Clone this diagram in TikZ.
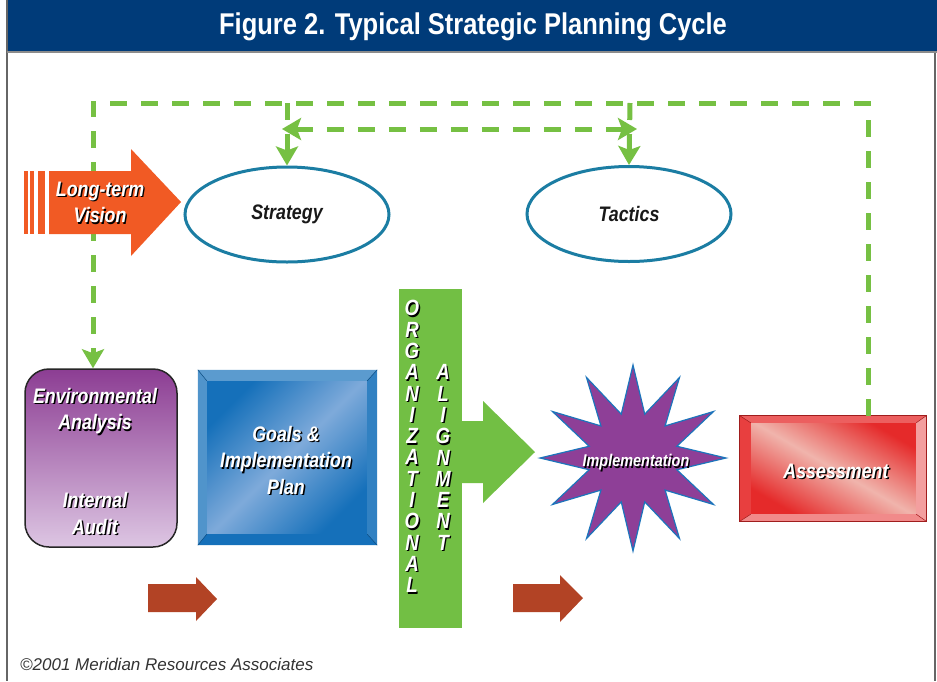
\documentclass[tikz,border=0pt]{standalone}
\usepackage{fontspec}
\setmainfont[FakeStretch=0.85]{Liberation Sans}
\newfontfamily\notefont{Liberation Sans}
\usetikzlibrary{arrows.meta,shapes.geometric,calc}

\definecolor{navy}{HTML}{003B79}
\definecolor{leaf}{HTML}{76C043}
\definecolor{barleaf}{HTML}{72BF44}
\definecolor{flame}{HTML}{F15A24}
\definecolor{rust}{HTML}{B24325}
\definecolor{teal}{HTML}{1B7DA3}
\definecolor{plum}{HTML}{8C3D93}
\definecolor{lilac}{HTML}{DDC6E3}
\definecolor{starplum}{HTML}{8E3F97}
\definecolor{starrim}{HTML}{1C75BC}
\definecolor{sky}{HTML}{1570BA}
\definecolor{skylight}{HTML}{7EAADA}
\definecolor{brick}{HTML}{E52A2A}
\definecolor{blush}{HTML}{F0B4AC}

% white lettering with a dark drop shadow
\newcommand{\shd}[1]{\leavevmode\rlap{\kern1.4pt\raisebox{-1.4pt}{\color{black}#1}}#1}

\tikzset{
  >={Stealth[length=19pt,width=22pt,inset=4pt]},
  loopline/.style={leaf, line width=5pt, dash pattern=on 17pt off 14pt},
  boldtext/.style={font=\fontsize{21}{26.5}\selectfont\bfseries\itshape, text=white, align=center, inner sep=0pt},
  ring/.style={ellipse, draw=teal, line width=3pt, fill=white, inner sep=0pt,
    font=\fontsize{21}{26}\selectfont\bfseries\itshape, text=black!90},
  letter/.style={font=\fontsize{22}{22}\selectfont\bfseries\itshape, text=white, inner sep=0pt},
}

\begin{document}
\begin{tikzpicture}[x=1pt,y=-1pt]
  \useasboundingbox (0,0) rectangle (937,681);
  \fill[white] (0,0) rectangle (937,681);

  % frame and heading
  \fill[navy] (7,0) rectangle (937,51);
  \draw[black!60, line width=2pt] (7,0) -- (7,681);
  \draw[black!60, line width=2pt] (934.5,52) -- (934.5,681);
  \draw[black!45, line width=1.5pt] (7,52) -- (937,52);
  \node[font=\fontsize{30}{34}\selectfont\bfseries, text=white, inner sep=0pt] (title) at (473,27) {Figure 2. Typical Strategic Planning Cycle};

  % the two ellipses
  \node[ring, minimum width=204pt, minimum height=95pt] (strat) at (287,214.5) {Strategy};
  \node[ring, minimum width=204pt, minimum height=95pt] (tact) at (629,214) {Tactics};

  % environmental analysis
  \node[draw=black!85, line width=1.5pt, rounded corners=24pt, top color=plum, bottom color=lilac,
    minimum width=152pt, minimum height=178pt] (env) at (101,458) {};
  \node[boldtext] (envtop) at (95,412) {\shd{Environmental}\\\shd{Analysis}};
  \node[boldtext] (envbot) at (95,514) {\shd{Internal}\\\shd{Audit}};

  % goals box with bevel
  \node[fill=sky, minimum width=179pt, minimum height=175pt, inner sep=0pt] (goals) at (287.5,457.5) {};
  \node[minimum width=160pt, minimum height=153pt, inner sep=0pt,
    top color=sky, bottom color=sky, middle color=skylight, shading angle=45] (goalsin) at (287,457.5) {};
  \fill[sky!70!white] (goals.north west) -- (goals.north east) -- (goalsin.north east) -- (goalsin.north west) -- cycle;
  \fill[sky!75!white] (goals.north west) -- (goalsin.north west) -- (goalsin.south west) -- (goals.south west) -- cycle;
  \fill[sky!88!white] (goals.north east) -- (goalsin.north east) -- (goalsin.south east) -- (goals.south east) -- cycle;
  \fill[sky] (goals.south west) -- (goalsin.south west) -- (goalsin.south east) -- (goals.south east) -- cycle;
  \draw[sky!70!black, line width=0.5pt] (goalsin.north west) -- (goals.north west)
    (goalsin.north east) -- (goals.north east) (goalsin.south west) -- (goals.south west)
    (goalsin.south east) -- (goals.south east);
  \node[boldtext] (goalstext) at (286,461) {\shd{Goals \&}\\\shd{Implementation}\\\shd{Plan}};

  % organizational alignment bar
  \node[fill=barleaf, minimum width=63pt, minimum height=339pt, inner sep=0pt] (bar) at (430.5,458.5) {};
  \fill[barleaf] (461,421) -- (483,421) -- (483,401) -- (535,452) -- (483,503) -- (483,483) -- (461,483) -- cycle;
  \foreach \ch [count=\i from 0] in {O,R,G,A,N,I,Z,A,T,I,O,N,A,L}
    \node[letter] (org\i) at (412,309+21.3*\i) {\shd{\ch}};
  \foreach \ch [count=\i from 0] in {A,L,I,G,N,M,E,N,T}
    \node[letter] (ali\i) at (443,373+21.3*\i) {\shd{\ch}};

  % implementation burst
  \node[star, star points=12, star point ratio=2.05, minimum size=186pt, inner sep=0pt,
    fill=starplum, draw=starrim, line width=1.2pt] (impl) at (633,458) {};
  \node[boldtext, font=\fontsize{17}{20}\selectfont\bfseries\itshape] (impltext) at (636,463) {\shd{Implementation}};

  % assessment box with bevel
  \node[fill=brick, draw=brick!70!black, line width=0.8pt, minimum width=186pt, minimum height=105pt, inner sep=0pt] (assess) at (833,468.5) {};
  \node[minimum width=165pt, minimum height=91pt, inner sep=0pt,
    top color=brick, bottom color=brick, middle color=blush, shading angle=-30] (assessin) at (833.5,468.5) {};
  \fill[brick!75!white] (assess.north west) -- (assess.north east) -- (assessin.north east) -- (assessin.north west) -- cycle;
  \fill[brick!90!white] (assess.north west) -- (assessin.north west) -- (assessin.south west) -- (assess.south west) -- cycle;
  \fill[brick!45!white] (assess.north east) -- (assessin.north east) -- (assessin.south east) -- (assess.south east) -- cycle;
  \fill[brick!55!white] (assess.south west) -- (assessin.south west) -- (assessin.south east) -- (assess.south east) -- cycle;
  \draw[brick!70!black, line width=0.8pt] (assess.north west) rectangle (assess.south east);
  \draw[brick!70!black, line width=0.5pt] (assessin.north west) -- (assess.north west)
    (assessin.north east) -- (assess.north east) (assessin.south west) -- (assess.south west)
    (assessin.south east) -- (assess.south east);
  \node[boldtext] (assesstext) at (836,472) {\shd{Assessment}};

  % feedback loop
  \coordinate (tl) at (93,103);
  \coordinate (tr) at (868,103);
  \coordinate (ts) at (287,103);
  \coordinate (tt) at (630,103);
  \coordinate (sa) at (282,129);
  \coordinate (ta) at (637,129);
  \draw[loopline, ->] (assess.north -| tr) -- (tr) -- (tl) -- (env.north -| tl);
  \draw[loopline, ->] (ts) -- (strat.north);
  \draw[loopline, ->] (tt) -- (tact.north);
  \draw[loopline, <->] (sa) -- (ta);

  % long-term vision arrow
  \fill[flame] (24,171) rectangle (27.5,234);
  \fill[flame] (30,171) rectangle (33.5,234);
  \fill[flame] (37.5,171) rectangle (44.5,234);
  \fill[flame] (49,171) -- (131,171) -- (131,149) -- (181,202) -- (131,256) -- (131,234) -- (49,234) -- cycle;
  \node[boldtext] (vision) at (100,203) {\shd{Long-term}\\\shd{Vision}};

  % flow arrows along the bottom
  \fill[rust] (148,584) -- (196,584) -- (196,577) -- (217,599) -- (196,621) -- (196,612) -- (148,612) -- cycle;
  \fill[rust] (513,584) -- (560,584) -- (560,575) -- (583,598) -- (560,622) -- (560,612) -- (513,612) -- cycle;

  \node[font=\notefont\fontsize{17}{20}\selectfont\itshape, text=black!80, anchor=west, inner sep=0pt] (copy) at (20,664) {\textcopyright 2001 Meridian Resources Associates};
\end{tikzpicture}
\end{document}
